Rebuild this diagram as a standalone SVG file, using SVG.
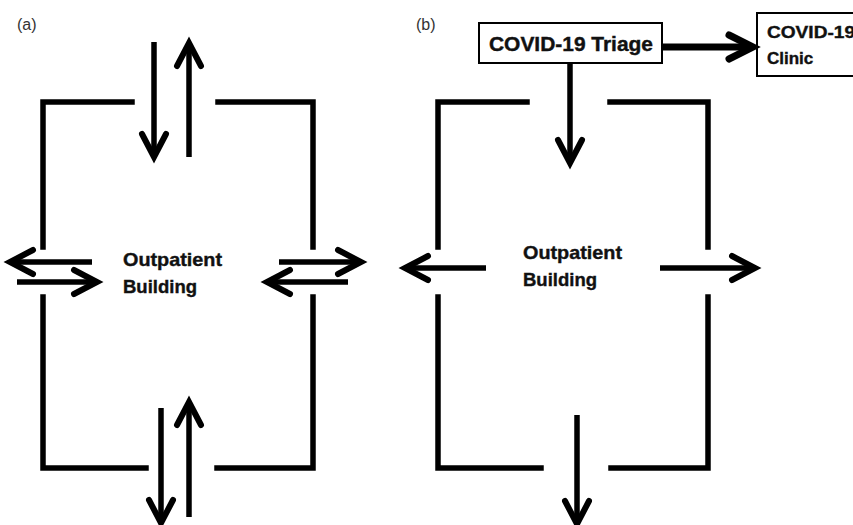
<svg xmlns="http://www.w3.org/2000/svg" width="853" height="525" viewBox="0 0 853 525">
<style>
.wall{fill:none;stroke:#000;stroke-width:5.5;stroke-linecap:square;stroke-linejoin:miter}
.ln{fill:none;stroke:#000;stroke-width:5.5;stroke-linecap:butt}
.hd{fill:none;stroke:#000;stroke-width:6;stroke-linecap:round;stroke-linejoin:miter}
.lbl{font-family:"Liberation Sans",Arial,sans-serif;font-size:16px;fill:#333}
.bt{font-family:"Liberation Sans",Arial,sans-serif;font-weight:bold;fill:#111;stroke:#111;stroke-width:0.4}
.box{fill:#fff;stroke:#000;stroke-width:2}
</style>
<rect width="853" height="525" fill="#fff"/>
<text class="lbl" x="17" y="30">(a)</text>
<text class="lbl" x="416" y="30">(b)</text>

<g id="buildingA">
<path class="wall" d="M132,102 H43 V247 M43,297 V468 H146 M218,102 H313 V247 M313,297 V468 H217"/>
<text class="bt" x="123" y="266" font-size="19" textLength="99" lengthAdjust="spacingAndGlyphs">Outpatient</text>
<text class="bt" x="123" y="293" font-size="19" textLength="74" lengthAdjust="spacingAndGlyphs">Building</text>
</g>

<g id="buildingB">
<path class="wall" d="M527,102 H438 V247 M438,297 V468 H541 M610,102 H708 V247 M708,297 V468 H611"/>
<text class="bt" x="523" y="259" font-size="19" textLength="99" lengthAdjust="spacingAndGlyphs">Outpatient</text>
<text class="bt" x="523" y="286" font-size="19" textLength="74" lengthAdjust="spacingAndGlyphs">Building</text>
</g>

<g id="triage">
<rect class="box" x="479" y="23" width="183" height="40"/>
<text class="bt" x="489" y="51" font-size="20" textLength="164" lengthAdjust="spacingAndGlyphs">COVID-19 Triage</text>
</g>

<g id="clinic">
<rect class="box" x="757" y="13" width="110" height="63"/>
<text class="bt" x="767" y="38" font-size="17" textLength="88" lengthAdjust="spacingAndGlyphs">COVID-19</text>
<text class="bt" x="767" y="64" font-size="17">Clinic</text>
</g>

<g id="connectors">
<path class="ln" d="M154,42 V155"/><polyline class="hd" points="142,134 154,157 166,134"/>
<path class="ln" d="M189,157 V45"/><polyline class="hd" points="177,66 189,43 201,66"/>
<path class="ln" d="M161,408 V521"/><polyline class="hd" points="149,500 161,523 173,500"/>
<path class="ln" d="M189,517 V404"/><polyline class="hd" points="177,425 189,402 201,425"/>
<path class="ln" d="M92,262 H12"/><polyline class="hd" points="33,250 10,262 33,274"/>
<path class="ln" d="M17,282 H95"/><polyline class="hd" points="74,270 97,282 74,294"/>
<path class="ln" d="M279,262 H359"/><polyline class="hd" points="338,250 361,262 338,274"/>
<path class="ln" d="M348,282 H269"/><polyline class="hd" points="290,270 267,282 290,294"/>
<path class="ln" d="M570,63 V161"/><polyline class="hd" points="558,140 570,163 582,140"/>
<path class="ln" d="M662,47 H750" style="stroke-width:7"/><polyline class="hd" points="729,35 753,47 729,59" style="stroke-width:7"/>
<path class="ln" d="M486,268 H407"/><polyline class="hd" points="428,256 405,268 428,280"/>
<path class="ln" d="M660,268 H753"/><polyline class="hd" points="732,256 755,268 732,280"/>
<path class="ln" d="M577,415 V522"/><polyline class="hd" points="565,501 577,524 589,501"/>
</g>
</svg>
